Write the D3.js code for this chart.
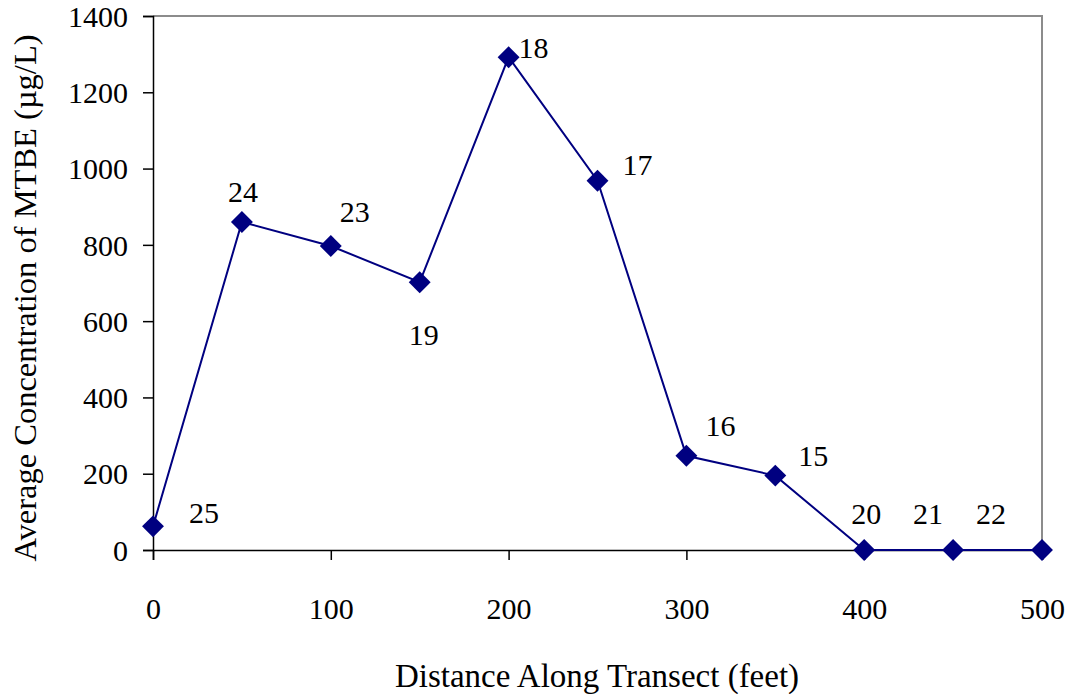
<!DOCTYPE html>
<html>
<head>
<meta charset="utf-8">
<script src="https://cdn.jsdelivr.net/npm/d3@7"></script>
<style>
  html, body { margin: 0; padding: 0; background: #fff; }
  svg { display: block; }
  svg text { fill: #000; }
</style>
</head>
<body>
<svg id="chart" width="1068" height="694"></svg>
<script>
// ---- data ----
const distances = [0, 50, 100, 150, 200, 250, 300, 350, 400, 450, 500];
const concentrations = [62, 860, 797, 702, 1292, 968, 247, 195, 0, 0, 0];
const wellLabels = ["25", "24", "23", "19", "18", "17", "16", "15", "20", "21", "22"];
const xTicks = [0, 100, 200, 300, 400, 500];
const yTicks = [0, 200, 400, 600, 800, 1000, 1200, 1400];
// label placement offsets (layout only)
const labelDx = [51, 1, 24, 4, 25, 40, 34, 38, 2, -25, -51];
const labelDy = [-3, -20, -24, 63, 1, -6, -20, -10, -26, -26, -26];

const FONT = '"Liberation Serif", "Times New Roman", Times, serif';
const svg = d3.select("#chart");
const pLeft = 153, pRight = 1042, pTop = 16, pBottom = 550;

const x = d3.scaleLinear().domain([0, 500]).range([pLeft, pRight]);
const y = d3.scaleLinear().domain([0, 1400]).range([pBottom, pTop]);

// plot frame (gray top & right)
svg.append("path")
  .attr("d", `M${pLeft},${pTop}H${pRight}V${pBottom}`)
  .attr("fill", "none").attr("stroke", "#8c8c8c").attr("stroke-width", 2);

// y axis
const yAxis = svg.append("g").attr("transform", `translate(${pLeft},0)`)
  .call(d3.axisLeft(y).tickValues(yTicks).tickSize(10).tickPadding(15).tickFormat(d3.format("d")))
  .attr("font-family", FONT).attr("font-size", 30);
yAxis.select(".domain").attr("stroke", "#000").attr("stroke-width", 1.5);
yAxis.selectAll(".tick line").attr("stroke", "#000").attr("stroke-width", 1.5);
yAxis.selectAll(".tick text").attr("dy", "0.34em");

// x axis
const xAxis = svg.append("g").attr("transform", `translate(0,${pBottom})`)
  .call(d3.axisBottom(x).tickValues(xTicks).tickSize(10).tickPadding(38).tickFormat(d3.format("d")))
  .attr("font-family", FONT).attr("font-size", 30);
xAxis.select(".domain").attr("stroke", "#000").attr("stroke-width", 1.5);
xAxis.selectAll(".tick line").attr("stroke", "#000").attr("stroke-width", 1.5);

// line
const pts = distances.map((d, i) => ({ x: d, y: concentrations[i], label: wellLabels[i], dx: labelDx[i], dy: labelDy[i] }));
svg.append("path")
  .datum(pts)
  .attr("fill", "none").attr("stroke", "#000080").attr("stroke-width", 2)
  .attr("d", d3.line().x(d => x(d.x)).y(d => y(d.y)));

// diamond markers
svg.selectAll("path.marker").data(pts).enter().append("path")
  .attr("class", "marker")
  .attr("d", d3.symbol().type(d3.symbolSquare).size(240))
  .attr("transform", d => `translate(${x(d.x)},${y(d.y)}) rotate(45)`)
  .attr("fill", "#000080");

// data labels
svg.selectAll("text.dlabel").data(pts).enter().append("text")
  .attr("class", "dlabel")
  .attr("x", d => x(d.x) + d.dx)
  .attr("y", d => y(d.y) + d.dy)
  .attr("text-anchor", "middle")
  .attr("font-family", FONT)
  .attr("font-size", 30)
  .text(d => d.label);

// axis titles
svg.append("text")
  .attr("x", 597).attr("y", 687)
  .attr("text-anchor", "middle").attr("font-size", 33).attr("font-family", FONT)
  .text("Distance Along Transect (feet)");

svg.append("text")
  .attr("transform", "translate(36,298) rotate(-90)")
  .attr("text-anchor", "middle").attr("font-size", 32.5).attr("font-family", FONT)
  .text("Average Concentration of MTBE (µg/L)");
</script>
</body>
</html>
